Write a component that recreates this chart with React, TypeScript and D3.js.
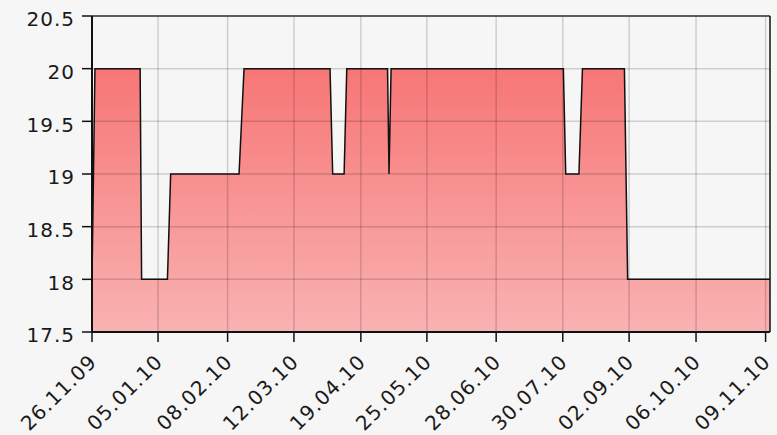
import React from "react";
import * as d3 from "d3";

// Sample positions (index along the category axis) and values
const positions = [0, 1.0, 16.4, 16.9, 25.7, 26.8, 50.1, 51.8, 81.1, 82.0, 85.9, 86.8, 100.7, 101.2, 101.9, 160.6, 161.4, 165.9, 167.1, 181.4, 182.5, 231];
const values = [18, 20, 20, 18, 18, 19, 19, 20, 20, 19, 19, 20, 20, 19, 20, 20, 19, 19, 20, 20, 18, 18];

const tickPositions = [0, 22.5, 46.2, 68.8, 91.6, 114.1, 137.7, 160.4, 183.0, 205.8, 229.5];
const tickLabels = ["26.11.09", "05.01.10", "08.02.10", "12.03.10", "19.04.10", "25.05.10", "28.06.10", "30.07.10", "02.09.10", "06.10.10", "09.11.10"];
const yTicks = [17.5, 18, 18.5, 19, 19.5, 20, 20.5];

const W = 777, H = 435;
const left = 92, right = 770, top = 16, bottom = 332;

export default function App() {
  const x = d3.scaleLinear().domain([0, 231]).range([left, right]);
  const y = d3.scaleLinear().domain([17.5, 20.5]).range([bottom, top]);
  const pts: [number, number][] = positions.map((p, i) => [p, values[i]]);
  const area = d3.area<[number, number]>().x(d => x(d[0])).y0(y(17.5)).y1(d => y(d[1]));
  const line = d3.line<[number, number]>().x(d => x(d[0])).y(d => y(d[1]));
  const font = "'DejaVu Sans', sans-serif";
  const textStyle = { letterSpacing: "1px" };
  return (
    <svg width={W} height={H} style={{ position: "fixed", left: 0, top: 0, background: "#f6f6f6" }}>
      <defs>
        <linearGradient id="fillg" gradientUnits="userSpaceOnUse" x1={0} x2={0} y1={y(20)} y2={y(17.5)}>
          <stop offset="0" stopColor="#f77676" />
          <stop offset="1" stopColor="#f9b2b2" />
        </linearGradient>
      </defs>
      <rect x={0} y={0} width={W} height={H} fill="#f6f6f6" />
      <path d={area(pts) || ""} fill="url(#fillg)" />
      {/* grid */}
      {yTicks.map(t => (
        <line key={"gy" + t} x1={left} x2={right} y1={y(t)} y2={y(t)} stroke="rgba(0,0,0,0.16)" strokeWidth={1.5} />
      ))}
      {tickPositions.map((p, i) => (
        <line key={"gx" + i} x1={x(p)} x2={x(p)} y1={top} y2={bottom} stroke="rgba(0,0,0,0.16)" strokeWidth={1.5} />
      ))}
      <path d={line(pts) || ""} fill="none" stroke="#111" strokeWidth={1.5} strokeLinejoin="miter" />
      {/* frame */}
      <line x1={left} x2={right} y1={top} y2={top} stroke="#333" strokeWidth={1.5} />
      <line x1={right} x2={right} y1={top} y2={bottom} stroke="#111" strokeWidth={1.5} />
      <line x1={left} x2={left} y1={top} y2={bottom} stroke="#111" strokeWidth={2} />
      <line x1={left} x2={right} y1={bottom} y2={bottom} stroke="#111" strokeWidth={2} />
      {yTicks.map(t => (
        <g key={"yt" + t}>
          <line x1={left - 10} x2={left} y1={y(t)} y2={y(t)} stroke="#111" strokeWidth={1.5} />
          <text x={left - 17} y={y(t)} dy="0.515em" textAnchor="end" fontFamily={font} fontSize={20} style={textStyle} fill="#1a1a1a">{String(t)}</text>
        </g>
      ))}
      {tickPositions.map((p, i) => (
        <g key={"xt" + i}>
          <line x1={x(p)} x2={x(p)} y1={bottom} y2={bottom + 10} stroke="#111" strokeWidth={1.5} />
          <text transform={`translate(${x(p) + 6},${bottom + 31}) rotate(-45)`} textAnchor="end" fontFamily={font} fontSize={20} style={textStyle} fill="#1a1a1a">{tickLabels[i]}</text>
        </g>
      ))}
    </svg>
  );
}
